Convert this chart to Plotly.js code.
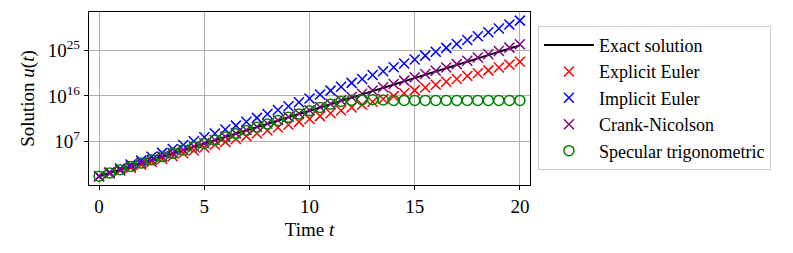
<!DOCTYPE html>
<html>
<head>
<meta charset="utf-8">
<script src="https://cdn.plot.ly/plotly-3.0.1.min.js"></script>
<style>html,body{margin:0;padding:0;background:#fff;}#chart{width:793px;height:253px;}</style>
</head>
<body>
<div id="chart"></div>
<script>
// time grid (marker positions)
const timeT = [0,0.5,1,1.5,2,2.5,3,3.5,4,4.5,5,5.5,6,6.5,7,7.5,8,8.5,9,9.5,10,10.5,11,11.5,12,12.5,13,13.5,14,14.5,15,15.5,16,16.5,17,17.5,18,18.5,19,19.5,20];
// log10 of u(t)
const logExact = [0,0.65,1.30,1.95,2.61,3.26,3.91,4.56,5.21,5.86,6.51,7.17,7.82,8.47,9.12,9.77,10.42,11.07,11.73,12.38,13.03,13.68,14.33,14.98,15.63,16.29,16.94,17.59,18.24,18.89,19.54,20.20,20.85,21.50,22.15,22.80,23.45,24.10,24.76,25.41,26.06];
const logExplicit = [0,0.57,1.14,1.71,2.28,2.85,3.42,3.99,4.56,5.13,5.70,6.27,6.84,7.41,7.98,8.55,9.12,9.69,10.25,10.82,11.39,11.96,12.53,13.10,13.67,14.24,14.81,15.38,15.95,16.52,17.09,17.66,18.23,18.80,19.37,19.94,20.51,21.08,21.65,22.22,22.79];
const logImplicit = [0,0.77,1.55,2.32,3.10,3.87,4.65,5.42,6.20,6.97,7.75,8.52,9.29,10.07,10.84,11.62,12.39,13.17,13.94,14.72,15.49,16.26,17.04,17.81,18.59,19.36,20.14,20.91,21.69,22.46,23.24,24.01,24.78,25.56,26.33,27.11,27.88,28.66,29.43,30.21,30.98];
const logCrank = [0,0.66,1.31,1.97,2.63,3.28,3.94,4.60,5.25,5.91,6.56,7.22,7.88,8.53,9.19,9.85,10.50,11.16,11.82,12.47,13.13,13.79,14.44,15.10,15.76,16.41,17.07,17.73,18.38,19.04,19.69,20.35,21.01,21.66,22.32,22.98,23.63,24.29,24.95,25.60,26.26];
const logSpecular = [0,0.65,1.30,1.95,2.61,3.26,3.91,4.56,5.21,5.86,6.51,7.17,7.82,8.47,9.12,9.77,10.42,11.07,11.73,12.38,13.03,13.68,14.33,14.90,15.15,15.25,15.25,15.2,15.1,15.1,15.1,15.1,15.1,15.1,15.1,15.1,15.1,15.1,15.1,15.1,15.1];
const seriesNames = ["Exact solution","Explicit Euler","Implicit Euler","Crank-Nicolson","Specular trigonometric"];
const yTickExp = [7,16,25];
const xTickVals = [0,5,10,15,20];

const toVal = a => a.map(v => Math.pow(10, v));
const font = "Liberation Serif, Times New Roman, serif";
const FS = 19;

const xMarker = (c) => ({symbol:'x-thin-open', size:10, color:c, line:{color:c, width:1.5}});

const traces = [
  {x:timeT, y:toVal(logExact), name:seriesNames[0], mode:'lines', line:{color:'black', width:2}},
  {x:timeT, y:toVal(logExplicit), name:seriesNames[1], mode:'markers', marker:xMarker('red')},
  {x:timeT, y:toVal(logImplicit), name:seriesNames[2], mode:'markers', marker:xMarker('blue')},
  {x:timeT, y:toVal(logCrank), name:seriesNames[3], mode:'markers', marker:xMarker('purple')},
  {x:timeT, y:toVal(logSpecular), name:seriesNames[4], mode:'markers', marker:{symbol:'circle-open', size:10, color:'green', line:{color:'green', width:1.5}}}
];
const layout = {
  width:793, height:253,
  margin:{l:89, r:263, t:12, b:68},
  paper_bgcolor:'#fff', plot_bgcolor:'#fff',
  font:{family:font, size:FS, color:'black'},
  showlegend:true,
  legend:{x:1.018, xanchor:'left', y:0.92, yanchor:'top', bgcolor:'#fff', bordercolor:'#cccccc', borderwidth:1, font:{family:font, size:18}, tracegroupgap:0, itemwidth:50},
  xaxis:{range:[-0.48,20.48], tickmode:'array', tickvals:xTickVals, ticks:'outside', ticklen:4, tickcolor:'black', showgrid:true, gridcolor:'#b0b0b0', gridwidth:1, zeroline:false, showline:true, linecolor:'black', linewidth:1.2, mirror:true, tickfont:{family:font, size:FS},
    title:{text:'Time <i>t</i>', font:{family:font, size:FS}, standoff:6}},
  yaxis:{type:'log', range:[-1.75,32.7], tickmode:'array', tickvals:yTickExp.map(e=>Math.pow(10,e)), ticktext:yTickExp.map(e=>'10<sup>'+e+'</sup>'), ticks:'outside', ticklen:4, tickcolor:'black', showgrid:true, gridcolor:'#b0b0b0', gridwidth:1, zeroline:false, showline:true, linecolor:'black', linewidth:1.2, mirror:true, tickfont:{family:font, size:FS},
    title:{text:'Solution <i>u</i>(<i>t</i>)', font:{family:font, size:FS}, standoff:8}}
};
Plotly.newPlot('chart', traces, layout, {displayModeBar:false, staticPlot:true});
</script>
</body>
</html>
